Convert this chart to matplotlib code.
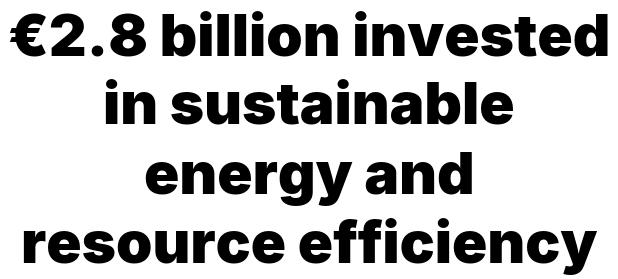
import matplotlib.pyplot as plt

lines = ["€2.8 billion invested", "in sustainable", "energy and", "resource efficiency"]
baselines_px = [55, 124, 194, 263]

fig = plt.figure(figsize=(6.18, 2.79), dpi=100)
for txt, b in zip(lines, baselines_px):
    fig.text(0.5, 1 - b / 279, txt, ha='center', va='baseline', fontsize=42,
             fontweight='black', family='Inter', color='black')
fig.savefig('out.png', dpi=100, facecolor='white')
